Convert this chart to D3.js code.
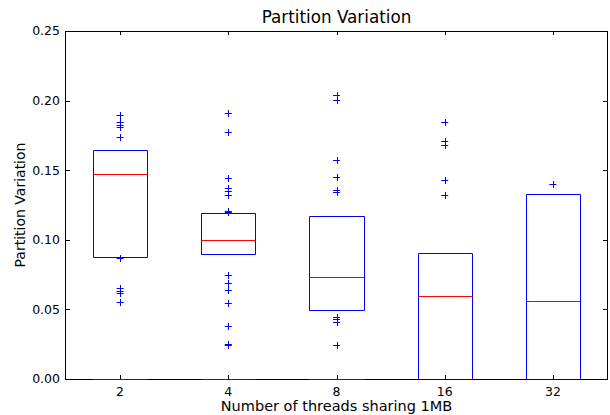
<!DOCTYPE html>
<html><head><meta charset="utf-8">
<script src="https://cdn.jsdelivr.net/npm/d3@7"></script>
<style>body{margin:0;background:#fff}svg{display:block}text{font-family:"DejaVu Sans",sans-serif;fill:#000}</style>
</head><body><svg id="c" width="610" height="415"></svg>
<script>
const categories = ["2","4","8","16","32"];
const q1 =      [0.0874, 0.0896, 0.0496, 0.0000, 0.0000];
const medians = [0.1473, 0.1001, 0.0730, 0.0596, 0.0560];
const q3 =      [0.1647, 0.1195, 0.1169, 0.0905, 0.1327];
const zeroMedians = [0, 0, 0, null, null];
const fliers = [
  [0.1899,0.1846,0.1827,0.1813,0.1741,0.0867,0.0651,0.0635,0.0616,0.0556],
  [0.1909,0.1772,0.1444,0.1370,0.1351,0.1322,0.1209,0.1200,0.0747,0.0692,0.0639,0.0548,0.0381,0.0254,0.0247],
  [0.2043,0.2007,0.1571,0.1449,0.1358,0.1346,0.0448,0.0429,0.0407,0.0244],
  [0.1849,0.1712,0.1679,0.1430,0.1324],
  [0.1398]
];
const yTicks = [0, 0.05, 0.10, 0.15, 0.20, 0.25];
const title = "Partition Variation";
const xLabel = "Number of threads sharing 1MB";
const yLabel = "Partition Variation";

const L = 66, R = 607, T = 31, B = 379;
const svg = d3.select("#c");
const x = d3.scaleLinear().domain([0.5, categories.length + 0.5]).range([L, R]);
const y = d3.scaleLinear().domain([0, 0.25]).range([B, T]);
const pos = i => i + 1;
const hw = 0.25;
const blue = "#0000ff", red = "#ff0000";

const g = svg.append("g");
categories.forEach((c, i) => {
  const x0 = Math.round(x(pos(i) - hw)) + 0.5, x1 = Math.round(x(pos(i) + hw)) + 0.5;
  const yt = Math.round(y(q3[i])) + 0.5, yb = Math.round(y(q1[i])) + 0.5;
  g.append("path").attr("d", `M${x0},${yb}V${yt}H${x1}V${yb}H${x0}Z`)
    .attr("fill", "none").attr("stroke", blue).attr("stroke-width", 1);
  const ym = Math.round(y(medians[i])) + 0.5;
  g.append("line").attr("x1", x0).attr("x2", x1).attr("y1", ym).attr("y2", ym)
    .attr("stroke", red).attr("stroke-width", 1);
  if (zeroMedians[i] !== null) {
    const yz = Math.round(y(zeroMedians[i])) + 0.5;
    g.append("line").attr("x1", x0).attr("x2", x1).attr("y1", yz).attr("y2", yz)
      .attr("stroke", red).attr("stroke-width", 1);
  }
  fliers[i].forEach(v => {
    const cx = x(pos(i)), cy = Math.round(y(v)) + 0.5, s = 3.5;
    g.append("path").attr("d", `M${cx - s},${cy}H${cx + s}M${Math.round(cx)+0.5},${cy - s}V${cy + s}`)
      .attr("stroke", blue).attr("stroke-width", 1).attr("fill", "none");
  });
});

const fr = svg.append("g");
fr.append("rect").attr("x", L - 0.5).attr("y", T + 0.5).attr("width", R - L + 1).attr("height", B - T)
  .attr("fill", "none").attr("stroke", "#000").attr("stroke-width", 1);
categories.forEach((c, i) => {
  const x0 = Math.round(x(pos(i) - hw)) + 0.5, x1 = Math.round(x(pos(i) + hw)) + 0.5;
  fr.append("line").attr("x1", x0).attr("x2", x1).attr("y1", B + 0.5).attr("y2", B + 0.5)
    .attr("stroke", zeroMedians[i] !== null ? red : blue).attr("stroke-opacity", 0.55);
});

const tk = 4;
yTicks.forEach(v => {
  const yy = Math.round(y(v)) + 0.5;
  fr.append("line").attr("x1", L).attr("x2", L + tk).attr("y1", yy).attr("y2", yy).attr("stroke", "#000");
  fr.append("line").attr("x1", R).attr("x2", R - tk).attr("y1", yy).attr("y2", yy).attr("stroke", "#000");
  svg.append("text").attr("x", 60).attr("y", y(v)).attr("dy", "0.35em").attr("text-anchor", "end")
    .attr("font-size", "12.5px").text(d3.format(".2f")(v));
});
categories.forEach((c, i) => {
  const xx = Math.round(x(pos(i))) + 0.5;
  fr.append("line").attr("x1", xx).attr("x2", xx).attr("y1", B).attr("y2", B - tk).attr("stroke", "#000");
  fr.append("line").attr("x1", xx).attr("x2", xx).attr("y1", T).attr("y2", T + tk).attr("stroke", "#000");
  svg.append("text").attr("x", x(pos(i))).attr("y", 396).attr("text-anchor", "middle")
    .attr("font-size", "12.5px").text(c);
});

svg.append("text").attr("x", (L + R) / 2).attr("y", 23).attr("text-anchor", "middle")
  .attr("font-size", "16.8px").text(title);
svg.append("text").attr("x", (L + R) / 2).attr("y", 411).attr("text-anchor", "middle")
  .attr("font-size", "14.5px").text(xLabel);
svg.append("text").attr("transform", `translate(25,${(T + B) / 2}) rotate(-90)`).attr("text-anchor", "middle")
  .attr("font-size", "14px").text(yLabel);
</script></body></html>
